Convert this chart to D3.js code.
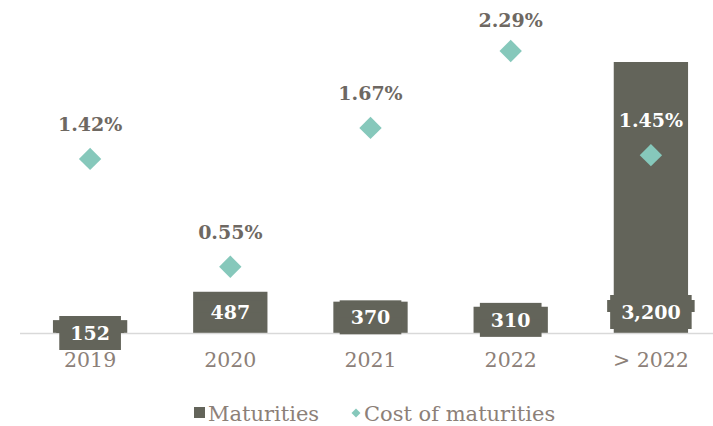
<!DOCTYPE html>
<html>
<head>
<meta charset="utf-8">
<script src="https://cdnjs.cloudflare.com/ajax/libs/d3/7.8.5/d3.min.js"></script>
<style>
  body { margin: 0; background: #fff; }
  svg { font-family: "DejaVu Serif", serif; }
</style>
</head>
<body>
<svg width="713" height="426"></svg>
<script>
    var years = ["2019", "2020", "2021", "2022", "> 2022"];
    var maturities = [152, 487, 370, 310, 3200];
    var costs = [1.42, 0.55, 1.67, 2.29, 1.45];

    var barColor = "#63645a";
    var dotColor = "#86c8bb";
    var textColor = "#6e6862";
    var axisColor = "#8c8078";

    var svg = d3.select("svg");
    var base = 333;

    var x = d3.scaleBand().domain(years).range([20, 721]).paddingInner(0.47).paddingOuter(0.235);
    var y = d3.scaleLinear().domain([0, 3200]).range([base, 62]);
    var y2 = d3.scaleLinear().domain([0, 2.29]).range([base + 2, 51]);

    // bars
    svg.selectAll("rect.bar")
        .data(maturities)
        .enter()
        .append("rect")
        .attr("class", "bar")
        .attr("x", (d, i) => x(years[i]))
        .attr("width", x.bandwidth())
        .attr("y", d => y(d))
        .attr("height", d => base - y(d))
        .style("fill", barColor);

    // axis line
    svg.append("line")
        .attr("x1", 20).attr("x2", 713)
        .attr("y1", base + 0.5).attr("y2", base + 0.5)
        .style("stroke", "#d9d9d9").style("stroke-width", 1.5);

    // bar labels with boxes
    var fmt = d3.format(",");
    maturities.forEach(function(d, i) {
        var cx = x(years[i]) + x.bandwidth() / 2;
        var h = base - y(d);
        var cy = d < 200 ? base : base - Math.min(21, h * 0.5);
        var g = svg.append("g");
        var t = g.append("text")
            .attr("x", cx).attr("y", cy)
            .attr("text-anchor", "middle")
            .attr("dy", "0.36em")
            .style("font-size", "19px")
            .style("font-weight", "bold")
            .style("fill", "#fff")
            .text(fmt(d));
        var w = t.node().getComputedTextLength();
        g.insert("rect", "text")
            .attr("x", cx - w / 2 - 11).attr("width", w + 22)
            .attr("y", cy - 17).attr("height", 34)
            .style("fill", barColor);
        g.insert("rect", "text")
            .attr("x", cx - w / 2 - 14).attr("width", w + 28)
            .attr("y", cy - 12).attr("height", 12)
            .style("fill", barColor);
    });

    // diamonds
    svg.selectAll("path.dot")
        .data(costs)
        .enter()
        .append("path")
        .attr("class", "dot")
        .attr("d", d3.symbol().type(d3.symbolSquare).size(250))
        .attr("transform", (d, i) => "translate(" + (x(years[i]) + x.bandwidth() / 2) + "," + y2(d) + ") rotate(45)")
        .style("fill", dotColor);

    // percent labels
    svg.selectAll("text.pct")
        .data(costs)
        .enter()
        .append("text")
        .attr("class", "pct")
        .attr("x", (d, i) => x(years[i]) + x.bandwidth() / 2)
        .attr("y", d => Math.max(20, y2(d) - 35))
        .attr("dy", "0.36em")
        .attr("text-anchor", "middle")
        .style("font-size", "19px")
        .style("font-weight", "bold")
        .style("fill", (d, i) => y(maturities[i]) < y2(d) - 45 ? "#fff" : textColor)
        .text(d => d.toFixed(2) + "%");

    // x labels
    svg.selectAll("text.tick")
        .data(years)
        .enter()
        .append("text")
        .attr("class", "tick")
        .attr("x", d => x(d) + x.bandwidth() / 2)
        .attr("y", 360)
        .attr("dy", "0.36em")
        .attr("text-anchor", "middle")
        .style("font-size", "20.5px")
        .style("fill", axisColor)
        .text(d => d);

    // legend
    var leg = svg.append("g");
    leg.append("rect").attr("x", 194).attr("y", 407).attr("width", 11).attr("height", 11).style("fill", barColor);
    leg.append("text").attr("x", 208).attr("y", 413).attr("dy", "0.36em")
        .style("font-size", "21px").style("fill", axisColor).text("Maturities");
    leg.append("path")
        .attr("d", d3.symbol().type(d3.symbolSquare).size(40))
        .attr("transform", "translate(356,413) rotate(45)")
        .style("fill", dotColor);
    leg.append("text").attr("x", 364).attr("y", 413).attr("dy", "0.36em")
        .style("font-size", "21px").style("fill", axisColor).text("Cost of maturities");
</script>
</body>
</html>
